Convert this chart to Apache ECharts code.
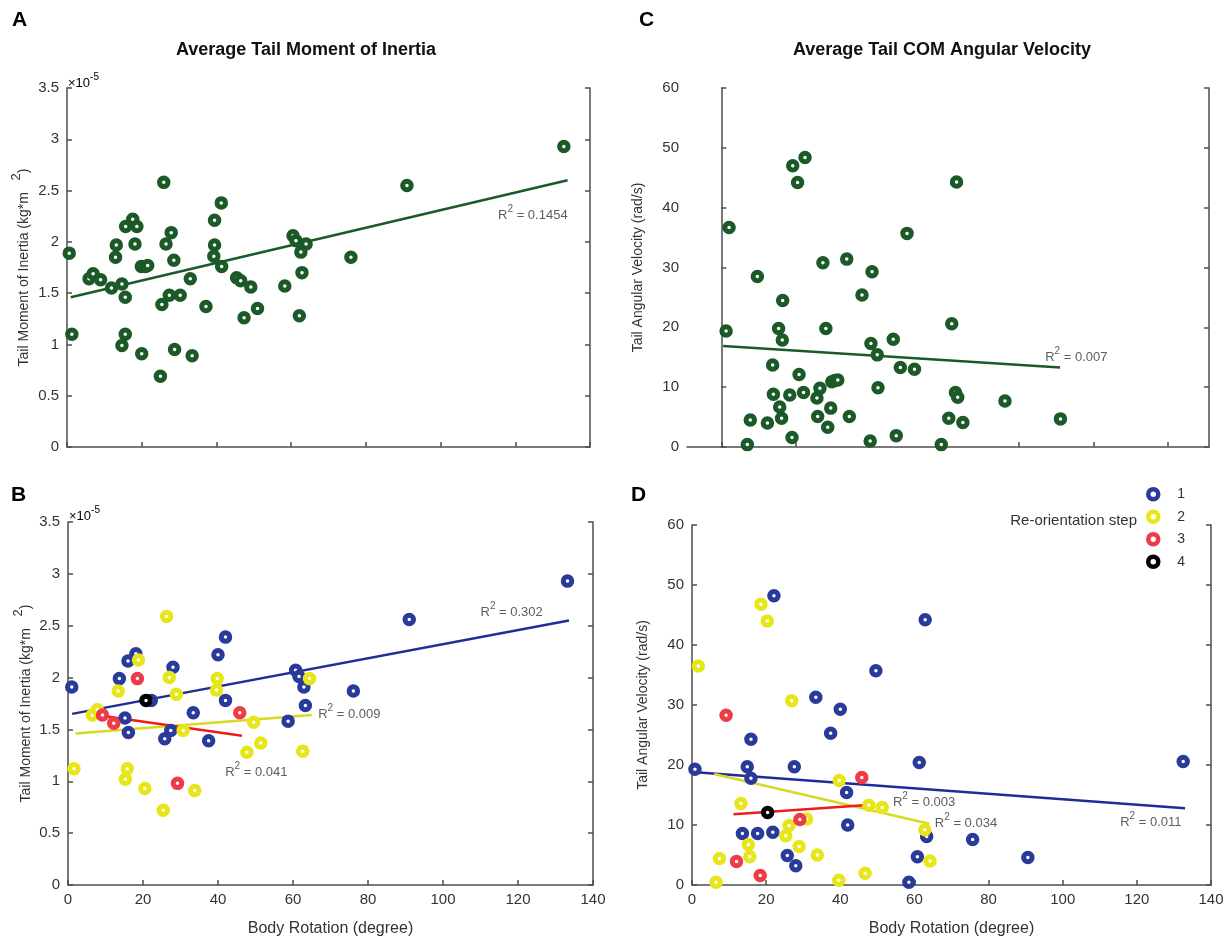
<!DOCTYPE html>
<html>
<head>
<meta charset="utf-8">
<title>Tail inertia / angular velocity vs body rotation</title>
<script src="https://cdn.jsdelivr.net/npm/echarts@6/dist/echarts.min.js"></script>
<style>
  html, body { margin: 0; padding: 0; background: #fff; }
  #main { width: 1229px; height: 942px; }
</style>
</head>
<body>
<div id="main"></div>
<script>
// ---- data ----
// x: body rotation (degree); y: tail moment of inertia (x1e-5 kg*m^2) or angular velocity (rad/s)

// panel A, all trials
var inertiaAll = [
  [0.6,1.89],[1.3,1.10],[5.9,1.64],[7.0,1.69],[9.0,1.63],[11.9,1.55],[13.2,1.97],[13.0,1.85],
  [14.7,1.59],[15.6,1.46],[15.6,1.10],[14.7,0.99],[15.7,2.15],[17.6,2.22],[18.7,2.15],[18.2,1.98],
  [19.9,1.76],[21.0,1.76],[21.6,1.77],[20.0,0.91],[25.9,2.58],[26.5,1.98],[27.9,2.09],[28.6,1.82],
  [25.4,1.39],[27.4,1.48],[30.3,1.48],[28.8,0.95],[25.0,0.69],[33.0,1.64],[33.5,0.89],[37.2,1.37],
  [39.5,2.21],[41.3,2.38],[39.5,1.97],[39.3,1.86],[41.4,1.76],[45.4,1.65],[46.5,1.62],[49.2,1.56],
  [47.4,1.26],[51.0,1.35],[58.3,1.57],[60.5,2.06],[61.3,2.01],[64.0,1.98],[62.6,1.90],[62.9,1.70],
  [62.2,1.28],[76.0,1.85],[91.0,2.55],[133.0,2.93]
];
var inertiaFitAll = [[1,1.46],[134,2.60]];

// panel B, split by re-orientation step
var inertiaStep1 = [
  [1.0,1.91],[13.7,1.99],[16.0,2.16],[18.1,2.23],[28.0,2.10],[22.2,1.78],[15.2,1.61],[16.1,1.47],
  [27.4,1.49],[25.8,1.41],[33.4,1.66],[37.5,1.39],[40.0,2.22],[42.0,2.39],[42.0,1.78],[60.7,2.07],
  [61.6,2.01],[62.9,1.91],[63.3,1.73],[58.7,1.58],[76.1,1.87],[91.0,2.56],[133.2,2.93]
];
var inertiaStep2 = [
  [26.3,2.59],[18.8,2.17],[13.4,1.87],[27.0,2.00],[28.9,1.84],[39.8,1.99],[39.6,1.88],[64.4,1.99],
  [6.5,1.64],[7.8,1.69],[30.7,1.49],[49.5,1.57],[51.4,1.37],[47.7,1.28],[62.6,1.29],
  [1.6,1.12],[15.8,1.12],[15.3,1.02],[20.5,0.93],[25.4,0.72],[33.8,0.91]
];
var inertiaStep3 = [[18.5,1.99],[9.2,1.64],[12.2,1.56],[45.8,1.66],[29.2,0.98]];
var inertiaStep4 = [[20.8,1.78]];
var inertiaFit1 = [[1.1,1.65],[133.6,2.55]];
var inertiaFit2 = [[2,1.46],[65,1.64]];
var inertiaFit3 = [[9.5,1.63],[46.4,1.44]];

// panel C, all trials
var velocityAll = [
  [1.3,19.4],[2.1,36.7],[7.0,0.4],[7.8,4.5],[9.7,28.5],[12.4,4.0],[13.8,13.7],[14.0,8.8],
  [15.4,19.8],[16.4,17.9],[16.5,24.5],[15.7,6.7],[16.2,4.8],[18.4,8.7],[19.0,1.6],[19.2,47.0],
  [20.5,44.2],[22.5,48.4],[20.9,12.1],[22.1,9.1],[25.7,8.2],[26.5,9.8],[25.9,5.1],[27.3,30.8],
  [28.1,19.8],[28.6,3.3],[29.4,6.5],[29.7,10.9],[30.5,11.1],[31.3,11.2],[33.7,31.4],[34.4,5.1],
  [37.8,25.4],[40.5,29.3],[40.2,17.3],[41.9,15.4],[42.1,9.9],[40.0,1.0],[46.2,18.0],[47.0,1.9],
  [48.1,13.3],[49.9,35.7],[51.9,13.0],[59.1,0.4],[61.1,4.8],[61.9,20.6],[63.2,44.3],[62.9,9.1],
  [63.5,8.3],[64.9,4.1],[76.2,7.7],[91.1,4.7]
];
var velocityFitAll = [[0.5,16.9],[91,13.3]];

// panel D, split by re-orientation step
var velocityStep1 = [
  [22.1,48.2],[62.9,44.2],[49.6,35.7],[33.4,31.3],[40.0,29.3],[37.4,25.3],[15.9,24.3],[61.3,20.4],
  [0.8,19.3],[14.9,19.7],[27.6,19.7],[15.9,17.8],[41.7,15.4],[42.0,10.0],[13.6,8.6],[17.7,8.6],
  [21.8,8.8],[25.7,4.9],[28.0,3.2],[60.8,4.7],[58.5,0.45],[63.3,8.1],[75.7,7.6],[90.6,4.6],[132.5,20.6]
];
var velocityStep2 = [
  [18.6,46.8],[20.3,44.0],[1.7,36.5],[26.9,30.7],[39.7,17.4],[13.2,13.6],[47.7,13.3],[51.3,12.9],
  [30.9,11.0],[26.2,9.9],[62.8,9.2],[25.3,8.2],[15.2,6.7],[15.6,4.7],[7.4,4.4],[6.5,0.45],
  [28.9,6.4],[33.8,5.0],[39.6,0.8],[46.7,1.95],[64.2,4.0]
];
var velocityStep3 = [[9.2,28.3],[45.8,17.9],[29.1,10.9],[12.0,3.9],[18.4,1.6]];
var velocityStep4 = [[20.4,12.1]];
var velocityFit1 = [[1,18.8],[133,12.8]];
var velocityFit2 = [[6,18.5],[64,10.2]];
var velocityFit3 = [[11.2,11.8],[46.4,13.3]];

var stepNames = ['1', '2', '3', '4'];
var xTicks = [0, 20, 40, 60, 80, 100, 120, 140];
var xTicksC = [0, 20, 40, 60, 80, 100, 120];

// ---- styling ----
var FONT = "'Liberation Sans', Arial, Helvetica, sans-serif";
var GREEN = '#1b5a28';
var stepColors = ['#2a3a9a', '#e6e61a', '#ef3a47', '#000000'];
var lineColors = ['#1f2d96', '#d6db22', '#f01b1b'];
var AXIS = '#4d4d4d';

var myChart = echarts.init(document.getElementById('main'));

function ring(color) {
  return { color: '#ffffff', borderColor: color, borderWidth: 5, opacity: 1 };
}

var supRich = {
  n: { fontSize: 13, fontFamily: FONT, color: '#333', verticalAlign: 'bottom' },
  s: { fontSize: 10, fontFamily: FONT, color: '#333', verticalAlign: 'top', padding: [0, 0, 8, 0] }
};

function scatter(name, data, color, xi, yi) {
  return {
    name: name, type: 'scatter', data: data, xAxisIndex: xi, yAxisIndex: yi,
    symbol: 'circle', symbolSize: 8.5, itemStyle: ring(color), z: 4, silent: true
  };
}
function fit(name, data, color, xi, yi) {
  return {
    name: name, type: 'line', data: data, xAxisIndex: xi, yAxisIndex: yi,
    showSymbol: false, lineStyle: { color: color, width: 2.5 }, z: 3, silent: true
  };
}
function note(text, pos, xi, yi) {
  return {
    type: 'scatter', data: [pos], xAxisIndex: xi, yAxisIndex: yi, symbolSize: 0, silent: true,
    label: {
      show: true, position: 'right', distance: 0,
      formatter: '{n|R}{s|2}{n| = ' + text + '}', rich: supRich
    }
  };
}

function xAxisCfg(grid, min, max, ticks, showLabels, withName) {
  var ax = {
    type: 'value', gridIndex: grid, min: min, max: max,
    axisLine: { show: true, onZero: false, lineStyle: { color: AXIS, width: 1.5 } },
    axisTick: { show: true, inside: true, length: 5, customValues: ticks, lineStyle: { color: AXIS, width: 1.5 } },
    axisLabel: { show: showLabels, customValues: ticks, color: '#333', fontSize: 15, fontFamily: FONT, margin: 7 },
    splitLine: { show: false }
  };
  if (withName) {
    ax.name = 'Body Rotation (degree)';
    ax.nameLocation = 'middle';
    ax.nameGap = 36;
    ax.nameTextStyle = { fontSize: 16, color: '#333', fontFamily: FONT };
  }
  return ax;
}
function yAxisLeft(grid, max, interval, name, gap) {
  return {
    type: 'value', gridIndex: grid, position: 'left', min: 0, max: max, interval: interval,
    axisLine: { show: true, lineStyle: { color: AXIS, width: 1.5 } },
    axisTick: { show: true, inside: true, length: 5, lineStyle: { color: AXIS, width: 1.5 } },
    axisLabel: { color: '#333', fontSize: 15, fontFamily: FONT, margin: 8 },
    splitLine: { show: false },
    name: name, nameLocation: 'middle', nameGap: gap,
    nameTextStyle: {
      fontSize: 14, color: '#333', fontFamily: FONT,
      rich: {
        n: { fontSize: 14, fontFamily: FONT, color: '#333', verticalAlign: 'bottom' },
        s: { fontSize: 13, fontFamily: FONT, color: '#333', verticalAlign: 'top', padding: [0, 0, 8, 0] }
      }
    }
  };
}
function yAxisRight(grid, max, interval) {
  return {
    type: 'value', gridIndex: grid, position: 'right', min: 0, max: max, interval: interval,
    axisLine: { show: true, lineStyle: { color: AXIS, width: 1.5 } },
    axisTick: { show: true, inside: true, length: 5, lineStyle: { color: AXIS, width: 1.5 } },
    axisLabel: { show: false },
    splitLine: { show: false }
  };
}

var inertiaName = '{n|Tail Moment of Inertia (kg*m   }{s|2}{n|)}';
var velocityName = 'Tail Angular Velocity (rad/s)';

var option = {
  animation: false,
  backgroundColor: '#ffffff',
  grid: [
    { left: 67, top: 88, width: 523, height: 359 },
    { left: 68, top: 522, width: 525, height: 363 },
    { left: 687, top: 88, width: 522, height: 359 },
    { left: 692, top: 525, width: 519, height: 360 }
  ],
  xAxis: [
    xAxisCfg(0, 0, 140, xTicks, false, false),
    xAxisCfg(1, 0, 140, xTicks, true, true),
    xAxisCfg(2, -9.2, 131, xTicksC, false, false),
    xAxisCfg(3, 0, 140, xTicks, true, true)
  ],
  yAxis: [
    yAxisLeft(0, 3.5, 0.5, inertiaName, 36),
    yAxisRight(0, 3.5, 0.5),
    yAxisLeft(1, 3.5, 0.5, inertiaName, 35),
    yAxisRight(1, 3.5, 0.5),
    yAxisLeft(2, 60, 10, velocityName, 42),
    yAxisRight(2, 60, 10),
    yAxisLeft(3, 60, 10, velocityName, 42),
    yAxisRight(3, 60, 10)
  ],
  legend: {
    data: stepNames,
    orient: 'vertical',
    left: 1141, top: 482,
    itemWidth: 10, itemHeight: 10, itemGap: 8,
    icon: 'circle',
    itemStyle: { borderWidth: 4.5, opacity: 1 },
    textStyle: { fontSize: 14, color: '#333', fontFamily: FONT, padding: [0, 0, 0, 14] },
    selectedMode: false
  },
  graphic: [
    { type: 'text', left: 12, top: 10, style: { text: 'A', font: 'bold 21px ' + FONT, fill: '#000' } },
    { type: 'text', left: 639, top: 10, style: { text: 'C', font: 'bold 21px ' + FONT, fill: '#000' } },
    { type: 'text', left: 11, top: 485, style: { text: 'B', font: 'bold 21px ' + FONT, fill: '#000' } },
    { type: 'text', left: 631, top: 485, style: { text: 'D', font: 'bold 21px ' + FONT, fill: '#000' } },
    { type: 'text', x: 306, y: 50, style: { text: 'Average Tail Moment of Inertia', font: 'bold 18px ' + FONT, fill: '#111', align: 'center', verticalAlign: 'middle' } },
    { type: 'text', x: 942, y: 50, style: { text: 'Average Tail COM Angular Velocity', font: 'bold 18px ' + FONT, fill: '#111', align: 'center', verticalAlign: 'middle' } },
    { type: 'text', x: 68, y: 72, style: { text: '{n|\u00d710}{s|-5}', rich: supRich } },
    { type: 'text', x: 69, y: 505, style: { text: '{n|\u00d710}{s|-5}', rich: supRich } },
    { type: 'text', x: 1137, y: 521, style: { text: 'Re-orientation step', font: '15px ' + FONT, fill: '#333', align: 'right', verticalAlign: 'middle' } }
  ],
  series: [
    // A
    fit('fitA', inertiaFitAll, GREEN, 0, 0),
    scatter('all A', inertiaAll, GREEN, 0, 0),
    note('0.1454', [115.4, 2.28], 0, 0),
    // B
    fit('fitB1', inertiaFit1, lineColors[0], 1, 2),
    fit('fitB2', inertiaFit2, lineColors[1], 1, 2),
    fit('fitB3', inertiaFit3, lineColors[2], 1, 2),
    scatter('1', inertiaStep1, stepColors[0], 1, 2),
    scatter('2', inertiaStep2, stepColors[1], 1, 2),
    scatter('3', inertiaStep3, stepColors[2], 1, 2),
    scatter('4', inertiaStep4, stepColors[3], 1, 2),
    note('0.302', [110, 2.65], 1, 2),
    note('0.009', [66.7, 1.67], 1, 2),
    note('0.041', [41.9, 1.11], 1, 2),
    // C
    fit('fitC', velocityFitAll, GREEN, 2, 4),
    scatter('all C', velocityAll, GREEN, 2, 4),
    note('0.007', [87, 15.4], 2, 4),
    // D
    fit('fitD1', velocityFit1, lineColors[0], 3, 6),
    fit('fitD2', velocityFit2, lineColors[1], 3, 6),
    fit('fitD3', velocityFit3, lineColors[2], 3, 6),
    scatter('1', velocityStep1, stepColors[0], 3, 6),
    scatter('2', velocityStep2, stepColors[1], 3, 6),
    scatter('3', velocityStep3, stepColors[2], 3, 6),
    scatter('4', velocityStep4, stepColors[3], 3, 6),
    note('0.003', [54.2, 14.2], 3, 6),
    note('0.034', [65.5, 10.7], 3, 6),
    note('0.011', [115.5, 10.8], 3, 6)
  ]
};

myChart.setOption(option);
</script>
</body>
</html>
